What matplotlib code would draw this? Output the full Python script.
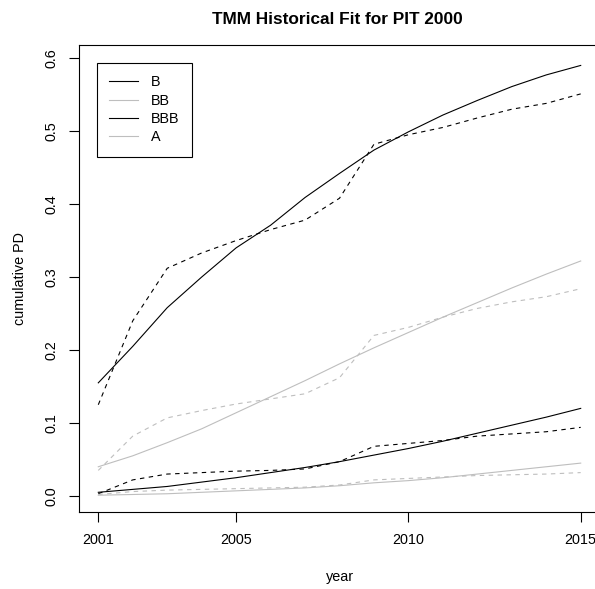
import numpy as np
import matplotlib
matplotlib.use('Agg')
import matplotlib.pyplot as plt

plt.rcParams['font.family'] = ['Liberation Sans', 'DejaVu Sans']

years = np.arange(2001, 2016)

# fitted (solid) and historical (dashed) cumulative PD by rating
b_fit = [0.155, 0.205, 0.258, 0.300, 0.340, 0.371, 0.409, 0.442, 0.474, 0.499,
         0.522, 0.542, 0.561, 0.577, 0.590]
b_hist = [0.125, 0.240, 0.312, 0.333, 0.350, 0.365, 0.378, 0.408, 0.482, 0.495,
          0.505, 0.518, 0.530, 0.538, 0.551]
bb_fit = [0.040, 0.055, 0.073, 0.092, 0.114, 0.136, 0.158, 0.181, 0.203, 0.224,
          0.245, 0.265, 0.285, 0.304, 0.322]
bb_hist = [0.035, 0.082, 0.107, 0.117, 0.126, 0.133, 0.140, 0.162, 0.220, 0.231,
           0.245, 0.257, 0.266, 0.273, 0.284]
bbb_fit = [0.005, 0.009, 0.013, 0.019, 0.025, 0.032, 0.039, 0.047, 0.056, 0.065,
           0.075, 0.086, 0.097, 0.108, 0.120]
bbb_hist = [0.003, 0.022, 0.030, 0.032, 0.034, 0.035, 0.037, 0.047, 0.068, 0.072,
            0.076, 0.082, 0.085, 0.088, 0.094]
a_fit = [0.001, 0.002, 0.003, 0.005, 0.007, 0.009, 0.011, 0.014, 0.018, 0.021,
         0.025, 0.030, 0.035, 0.040, 0.045]
a_hist = [0.002, 0.006, 0.008, 0.009, 0.010, 0.011, 0.012, 0.015, 0.022, 0.024,
          0.026, 0.028, 0.029, 0.030, 0.032]

ratings = ['B', 'BB', 'BBB', 'A']
fits = [b_fit, bb_fit, bbb_fit, a_fit]
hists = [b_hist, bb_hist, bbb_hist, a_hist]
colors = ['black', '#BEBEBE', 'black', '#BEBEBE']

fig = plt.figure(figsize=(5.95, 5.89), dpi=100)
ax = fig.add_axes([79 / 595, 77 / 589, 521 / 595, 467 / 589])

lw = 0.8
for name, fit, hist, c in zip(ratings, fits, hists, colors):
    ax.plot(years, fit, color=c, lw=lw, label=name)
    ax.plot(years, hist, color=c, lw=lw, linestyle=(0, (4, 4)))

ax.set_xlim(2000.44, 2015.56)
ax.set_ylim(-0.022, 0.618)
ax.set_xticks([2001, 2005, 2010, 2015])
ax.set_yticks([0.0, 0.1, 0.2, 0.3, 0.4, 0.5, 0.6])
ax.set_yticklabels(['0.0', '0.1', '0.2', '0.3', '0.4', '0.5', '0.6'],
                   rotation=90, va='center')
ax.tick_params(direction='out', length=7, width=0.8, labelsize=10.4, pad=8)
for s in ax.spines.values():
    s.set_linewidth(0.8)

ax.set_xlabel('year', fontsize=10.4, labelpad=17)
ax.set_ylabel('cumulative PD', fontsize=10.4, labelpad=12)
fig.text(337 / 595, 1 - 20 / 589, 'TMM Historical Fit for PIT 2000',
         ha='center', va='center', fontsize=12.4, fontweight='bold')

leg = ax.legend(loc='upper left', bbox_to_anchor=(18 / 521, 1 - 18 / 467),
                fontsize=10.4, fancybox=False, framealpha=1, edgecolor='black',
                handlelength=2.0, handletextpad=0.9, labelspacing=0.3,
                borderpad=0.85, borderaxespad=0)
leg.get_frame().set_linewidth(0.8)

fig.savefig('out.png', dpi=100)
